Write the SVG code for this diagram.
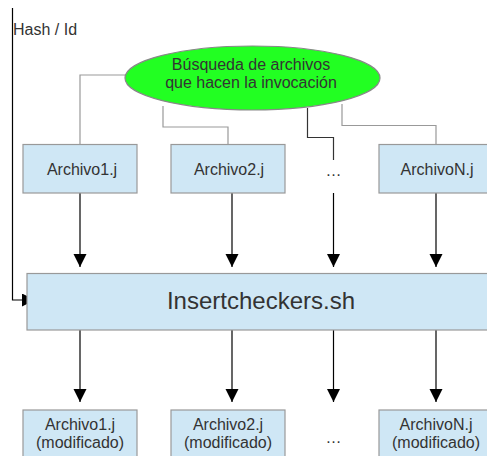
<svg xmlns="http://www.w3.org/2000/svg" width="487" height="456" viewBox="0 0 487 456">
<style>
.box{fill:#cfe7f5;stroke:#999;stroke-width:1.2}
.t{font-family:"Liberation Sans",Arial,sans-serif;fill:#333;text-anchor:middle}
.f{font-size:16px}
.g{fill:none;stroke:#999;stroke-width:1.2}
.d{fill:none;stroke:#333;stroke-width:1.2}
.a{fill:none;stroke:#000;stroke-width:1.2}
</style>
<defs>
<marker id="ah" markerUnits="userSpaceOnUse" markerWidth="14" markerHeight="20" refX="13" refY="6.5" orient="auto">
<path d="M0,0 L13,6.5 L0,13 Z" fill="#000"/>
</marker>
</defs>
<rect width="487" height="456" fill="#fff"/>
<g id="connectors">
<path class="g" d="M125,75 H80 V144"/>
<path class="g" d="M163,106 V127 H228 V144"/>
<path class="d" d="M307.5,108 V137.5 H333.5 V160"/>
<path class="g" d="M342,104 V125.5 H436 V144"/>
<path class="a" d="M80,193 V267" marker-end="url(#ah)"/>
<path class="a" d="M232,193 V267" marker-end="url(#ah)"/>
<path class="a" d="M333.5,193 V267" marker-end="url(#ah)"/>
<path class="a" d="M436,193 V267" marker-end="url(#ah)"/>
<path class="a" d="M12.5,8 V300 H35" marker-end="url(#ah)"/>
<path class="a" d="M80,330 V402" marker-end="url(#ah)"/>
<path class="a" d="M232,330 V402" marker-end="url(#ah)"/>
<path class="a" d="M333.5,330 V402" marker-end="url(#ah)"/>
<path class="a" d="M436,330 V402" marker-end="url(#ah)"/>
</g>
<g id="hash"><text class="t f" x="13" y="35" style="text-anchor:start">Hash / Id</text></g>
<g id="busqueda">
<ellipse cx="252.5" cy="78" rx="127.5" ry="32" fill="#22ff22" stroke="#888" stroke-width="1.2"/>
<text class="t f" x="251" y="70">Búsqueda de archivos</text>
<text class="t f" x="251" y="88">que hacen la invocación</text>
</g>
<g id="a1"><rect class="box" x="23" y="144.5" width="114" height="48.5"/><text class="t f" x="82" y="175">Archivo1.j</text></g>
<g id="a2"><rect class="box" x="171" y="144.5" width="114" height="48.5"/><text class="t f" x="229" y="175">Archivo2.j</text></g>
<g id="dots1"><text class="t f" x="333.5" y="176">…</text></g>
<g id="aN"><rect class="box" x="379" y="144.5" width="114" height="48.5"/><text class="t f" x="437" y="175">ArchivoN.j</text></g>
<g id="insert"><rect class="box" x="27" y="273.5" width="470" height="56.5"/><text class="t" x="261" y="309" font-size="24">Insertcheckers.sh</text></g>
<g id="m1"><rect class="box" x="23" y="410" width="114" height="50"/><text class="t f" x="80" y="430">Archivo1.j</text><text class="t f" x="80" y="448">(modificado)</text></g>
<g id="m2"><rect class="box" x="171" y="410" width="114" height="50"/><text class="t f" x="228" y="430">Archivo2.j</text><text class="t f" x="228" y="448">(modificado)</text></g>
<g id="dots2"><text class="t f" x="333.5" y="443">…</text></g>
<g id="mN"><rect class="box" x="379" y="410" width="114" height="50"/><text class="t f" x="436" y="430">ArchivoN.j</text><text class="t f" x="436" y="448">(modificado)</text></g>
</svg>
